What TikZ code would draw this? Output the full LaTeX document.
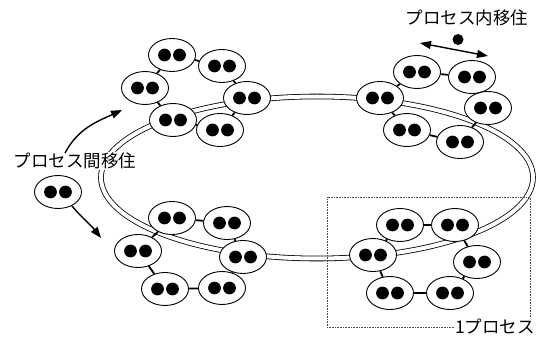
\documentclass[tikz,border=0pt]{standalone}
\usepackage{fontspec}
\newfontfamily\jp{Noto Sans CJK JP}
\usetikzlibrary{arrows.meta,shapes.geometric}

\begin{document}
\begin{tikzpicture}[x=1pt,y=-1pt,
  proc/.style={ellipse, draw, line width=0.9pt, fill=white,
    minimum width=47pt, minimum height=33pt, inner sep=0pt,
    path picture={
      \fill[black] ([xshift=-7.5pt]path picture bounding box.center) circle (6.4pt);
      \fill[black] ([xshift=7.5pt]path picture bounding box.center) circle (6.4pt);}},
  link/.style={line width=1.8pt},
  ring/.style={draw, line width=0.8pt, double=white, double distance=4pt},
  lbl/.style={font=\jp\fontsize{17.5}{20}\selectfont, inner sep=1pt},
  mig/.style={line width=1.4pt, -{Triangle[length=11pt,width=8pt]}},
  area/.style={densely dotted, line width=0.6pt, black!70},
]
\useasboundingbox (0,0) rectangle (536,339);

% the ring joining the four processes
\draw[ring] (317,177.5) ellipse [x radius=216pt, y radius=81pt];

% boundary of one process
\node[lbl] (one) at (495,327) {1プロセス};
\draw[area] (one.west) -- (327,327) -- (327,197) -- (530,197) -- (530,317);

% process, upper left
\node[proc] (a1) at (172,55) {};
\node[proc] (a2) at (222,66) {};
\node[proc] (a3) at (247,98) {};
\node[proc] (a4) at (220,130) {};
\node[proc] (a5) at (173,120) {};
\node[proc] (a6) at (145,88) {};
% process, upper right
\node[proc] (b1) at (417,72) {};
\node[proc] (b2) at (472,77) {};
\node[proc] (b3) at (488,108) {};
\node[proc] (b4) at (460,142) {};
\node[proc] (b5) at (407,130) {};
\node[proc] (b6) at (380,98) {};
% process, lower left
\node[proc] (c1) at (172,218) {};
\node[proc] (c2) at (227,223) {};
\node[proc] (c3) at (243,257) {};
\node[proc] (c4) at (222,288) {};
\node[proc] (c5) at (165,289) {};
\node[proc] (c6) at (138,251) {};
% process, lower right
\node[proc] (d1) at (400,225) {};
\node[proc] (d2) at (455,225) {};
\node[proc] (d3) at (477,262) {};
\node[proc] (d4) at (450,293) {};
\node[proc] (d5) at (390,293) {};
\node[proc] (d6) at (373,255) {};

% links inside each process
\foreach \p in {a,b,c,d}{
  \draw[link] (\p1) -- (\p2);
  \draw[link] (\p2) -- (\p3);
  \draw[link] (\p3) -- (\p4);
  \draw[link] (\p4) -- (\p5);
  \draw[link] (\p5) -- (\p6);
  \draw[link] (\p6) -- (\p1);
}

% migration between processes
\node[lbl, fill=white] (inter) at (75,161) {プロセス間移住};
\node[proc] (mover) at (58,192) {};
\coordinate (upstart) at (65,153);
\coordinate (upend) at (122,110);
\coordinate (downend) at (101,238);
\draw[mig] (upstart) to[out=62, in=205] (upend);
\draw[mig] (mover.-45) to[out=-50, in=128] (downend);

% migration within a process
\node[lbl] (intra) at (467,18) {プロセス内移住};
\fill (458,39.5) coordinate (dot) circle (5.5pt);
\coordinate (left) at (420,43);
\coordinate (right) at (488,56);
\draw[line width=1.4pt, {Triangle[length=11pt,width=8pt]}-{Triangle[length=11pt,width=8pt]}] (left) -- (right);
\end{tikzpicture}
\end{document}
